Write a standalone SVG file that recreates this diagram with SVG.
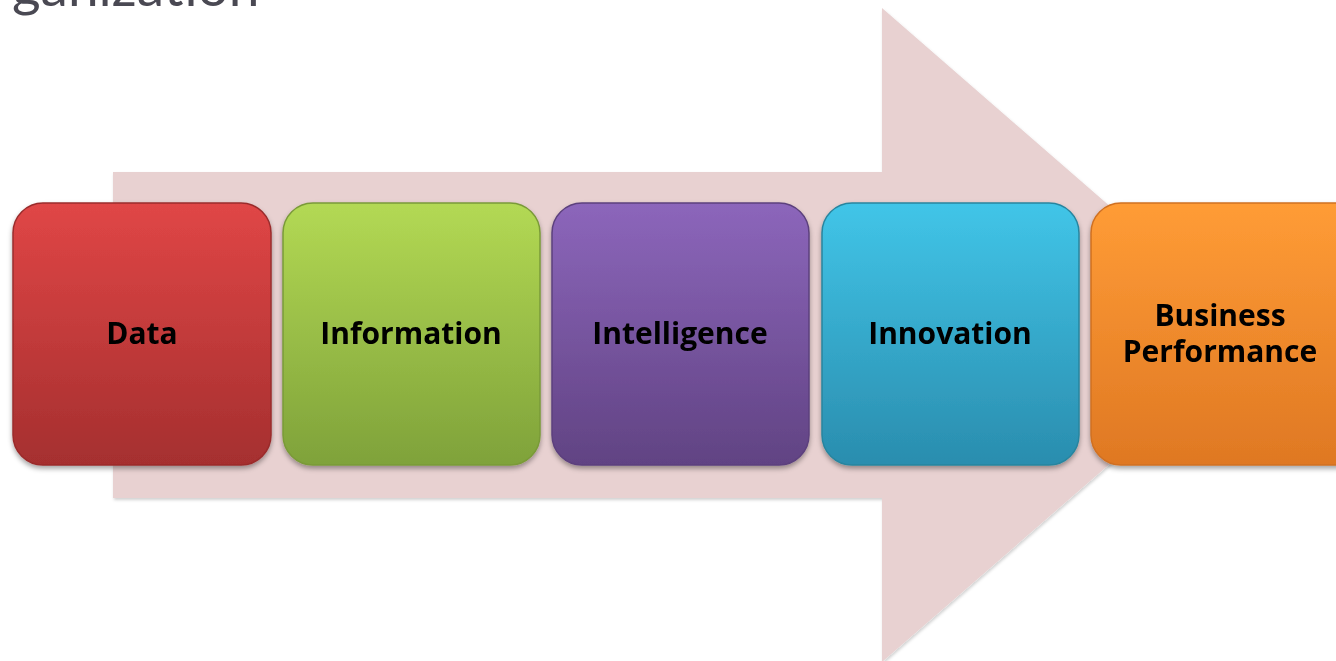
<svg xmlns="http://www.w3.org/2000/svg" width="1336" height="661" viewBox="0 0 1336 661">
<defs>
<style>
.lbl{font-family:"Open Sans","Noto Sans",sans-serif;font-weight:bold;font-size:30px;fill:#000;text-anchor:middle}
.box{stroke-width:1.5}
</style>
<linearGradient id="gR" x1="0" y1="0" x2="0" y2="1"><stop offset="0" stop-color="#e04646"/><stop offset="1" stop-color="#a52f2f"/></linearGradient>
<linearGradient id="gG" x1="0" y1="0" x2="0" y2="1"><stop offset="0" stop-color="#b3d954"/><stop offset="1" stop-color="#7fa23a"/></linearGradient>
<linearGradient id="gP" x1="0" y1="0" x2="0" y2="1"><stop offset="0" stop-color="#8c66bb"/><stop offset="1" stop-color="#614383"/></linearGradient>
<linearGradient id="gB" x1="0" y1="0" x2="0" y2="1"><stop offset="0" stop-color="#41c5e8"/><stop offset="1" stop-color="#2a8dae"/></linearGradient>
<linearGradient id="gO" x1="0" y1="0" x2="0" y2="1"><stop offset="0" stop-color="#ff9c36"/><stop offset="1" stop-color="#df7823"/></linearGradient>
<filter id="sh" x="-10%" y="-10%" width="120%" height="125%"><feDropShadow dx="0" dy="3" stdDeviation="2.5" flood-color="#000" flood-opacity="0.35"/></filter>
<filter id="ash" x="-5%" y="-5%" width="110%" height="110%"><feDropShadow dx="1" dy="2" stdDeviation="1.5" flood-color="#000" flood-opacity="0.18"/></filter>
</defs>
<rect width="1336" height="661" fill="#fff"/>
<text x="12" y="6" font-family="Lato,'Open Sans',sans-serif" font-size="55" fill="#4a4953">ganization</text>
<g id="connectors">
<polygon id="arrow" points="113,172 882,172 882,8 1258,335 882,662 882,498 113,498" fill="#e8d1d1" filter="url(#ash)"/>
</g>
<g id="n1" filter="url(#sh)"><rect class="box" x="13" y="203" width="258" height="262" rx="30" fill="url(#gR)" stroke="#9a2c2c"/><text class="lbl" x="142" y="344">Data</text></g>
<g id="n2" filter="url(#sh)"><rect class="box" x="283" y="203" width="257" height="262" rx="30" fill="url(#gG)" stroke="#7a9a38"/><text class="lbl" x="411" y="344">Information</text></g>
<g id="n3" filter="url(#sh)"><rect class="box" x="552" y="203" width="257" height="262" rx="30" fill="url(#gP)" stroke="#5c407d"/><text class="lbl" x="680" y="344">Intelligence</text></g>
<g id="n4" filter="url(#sh)"><rect class="box" x="822" y="203" width="257" height="262" rx="30" fill="url(#gB)" stroke="#28859f"/><text class="lbl" x="950" y="344">Innovation</text></g>
<g id="n5" filter="url(#sh)"><rect class="box" x="1091" y="203" width="275" height="262" rx="30" fill="url(#gO)" stroke="#d07020"/><text class="lbl" x="1220" y="326">Business</text><text class="lbl" x="1220" y="362">Performance</text></g>
</svg>
